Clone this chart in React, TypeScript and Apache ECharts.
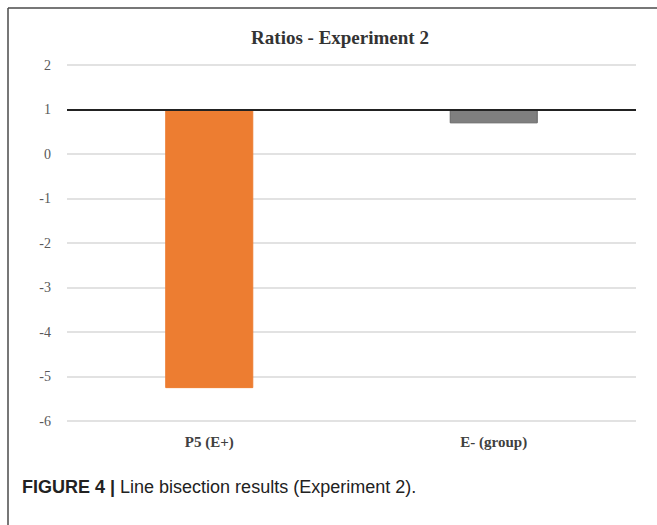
import React, { useEffect, useRef } from "react";
import * as echarts from "echarts";

const categories = ["P5 (E+)", "E- (group)"];
const ratios = [-5.25, 0.7];
const baseline = 1;
const barColors = ["#ED7D31", "#7F7F7F"];
const yMin = -6;
const yMax = 2;
const yInterval = 1;
const titleText = "Ratios - Experiment 2";
const captionBold = "FIGURE 4 | ";
const captionText = "Line bisection results (Experiment 2).";

export default function App() {
  const ref = useRef<HTMLDivElement>(null);
  useEffect(() => {
    document.body.style.margin = "0";
    const chart = echarts.init(ref.current!, undefined, { renderer: "svg" });
    const serif = "'Liberation Serif', 'DejaVu Serif', serif";
    chart.setOption({
      animation: false,
      backgroundColor: "#ffffff",
      grid: { left: 67, right: 21, top: 65, bottom: 104, containLabel: false },
      xAxis: {
        type: "category",
        data: categories,
        axisLine: { show: false },
        axisTick: { show: false },
        axisLabel: {
          fontFamily: serif,
          fontWeight: "bold",
          fontSize: 15,
          color: "#404040",
          margin: 13,
        },
      },
      yAxis: {
        type: "value",
        min: yMin,
        max: yMax,
        interval: yInterval,
        axisLine: { show: false },
        axisTick: { show: false },
        splitLine: { lineStyle: { color: "#d9d9d9", width: 1.5 } },
        axisLabel: {
          fontFamily: serif,
          fontSize: 14,
          color: "#595959",
          margin: 16,
        },
      },
      series: [
        {
          type: "custom",
          data: ratios.map((v, i) => [i, v]),
          encode: { x: 0, y: 1 },
          renderItem: (params: any, api: any) => {
            const idx = api.value(0);
            const v = api.value(1);
            const base = api.coord([idx, baseline]);
            const end = api.coord([idx, v]);
            const w = api.size([1, 0])[0] * 0.306;
            const top = Math.min(base[1], end[1]);
            const h = Math.abs(end[1] - base[1]);
            return {
              type: "rect",
              shape: { x: base[0] - w / 2, y: top, width: w, height: h },
              style: {
                fill: barColors[params.dataIndex],
                stroke: params.dataIndex === 1 ? "#666666" : barColors[params.dataIndex],
                lineWidth: 1,
              },
            };
          },
          markLine: {
            silent: true,
            symbol: "none",
            label: { show: false },
            lineStyle: { color: "#222222", width: 2, type: "solid" },
            data: [{ yAxis: baseline }],
            z: 10,
          },
        },
      ],
      graphic: [
        {
          type: "line",
          shape: { x1: 8, y1: 8, x2: 657, y2: 8 },
          style: { stroke: "#4a4a4a", lineWidth: 1.5 },
        },
        {
          type: "line",
          shape: { x1: 8, y1: 8, x2: 8, y2: 525 },
          style: { stroke: "#4a4a4a", lineWidth: 1.5 },
        },
        {
          type: "text",
          x: 340,
          y: 37,
          style: {
            text: titleText,
            fontFamily: serif,
            fontWeight: "bold",
            fontSize: 19,
            fill: "#333333",
            align: "center",
            verticalAlign: "middle",
          },
        },
        {
          type: "text",
          x: 22,
          y: 487,
          style: {
            text: "{b|" + captionBold + "}{n|" + captionText + "}",
            verticalAlign: "middle",
            align: "left",
            rich: {
              b: {
                fontFamily: "'Liberation Sans', Arial, sans-serif",
                fontWeight: "bold",
                fontSize: 18,
                fill: "#222222",
              },
              n: {
                fontFamily: "'Liberation Sans', Arial, sans-serif",
                fontSize: 18,
                fill: "#222222",
              },
            },
          },
        },
      ],
    });
    return () => chart.dispose();
  }, []);
  return <div ref={ref} style={{ width: 657, height: 525 }} />;
}
